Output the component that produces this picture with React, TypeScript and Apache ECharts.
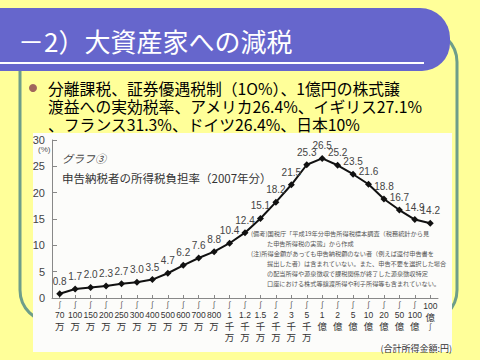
import React, { useEffect, useRef } from 'react';
import * as echarts from 'echarts';

const categories = ['70万', '100万', '150万', '200万', '250万', '300万', '400万', '500万', '600万', '700万', '800万', '1千万', '1.2千万', '1.5千万', '2千万', '3千万', '5千万', '1億', '2億', '5億', '10億', '20億', '50億', '100億', '100億~'];
const taxRates = [0.8, 1.7, 2.0, 2.3, 2.7, 3.0, 3.5, 4.7, 6.2, 7.6, 8.8, 10.4, 12.4, 15.1, 18.2, 21.5, 25.3, 26.5, 25.2, 23.5, 21.6, 18.8, 16.7, 14.9, 14.2];
const yMin = 0;
const yMax = 30;
const yStep = 5;

const slideTitle = '－2）大資産家への減税';
const bulletLines = [
  '分離課税、証券優遇税制（1O%）、1億円の株式譲',
  '渡益への実効税率、アメリカ26.4%、イギリス27.1%',
  '、フランス31.3%、ドイツ26.4%、日本10%',
];
const chartNo = 'グラフ③';
const chartTitle = '申告納税者の所得税負担率（2007年分）';
const noteLines = [
  '(備考)国税庁「平成19年分申告所得税標本調査（税務統計から見',
  'た申告所得税の実態」から作成',
  '(注)所得金額があっても申告納税額のない者（例えば還付申告書を',
  '提出した者）は含まれていない。また、申告不要を選択した場合',
  'の配当所得や源泉徴収で課税関係が終了した源泉徴収特定',
  '口座における株式等譲渡所得や利子所得等も含まれていない。',
];
const unitNote = '(合計所得金額:円)';

const JP = '"Noto Sans CJK JP", "Noto Sans", sans-serif';
const NUM = '"Liberation Sans", Arial, sans-serif';

export default function App() {
  const ref = useRef<HTMLDivElement>(null);
  useEffect(() => {
    if (!ref.current) return;
    const chart = echarts.init(ref.current, undefined, { renderer: 'svg' });
    const labelFmt = (v: string) => {
      if (v.endsWith('~')) {
        const m = v.slice(0, -1).match(/^([\d.]+)(.*)$/) as RegExpMatchArray;
        return [`{n|${m[1]}}`, ...m[2].split('').map((c) => `{u|${c}}`), '{s|∫}'].join('\n');
      }
      const m = v.match(/^([\d.]+)(.*)$/) as RegExpMatchArray;
      return ['{s|∫}', `{n|${m[1]}}`, ...m[2].split('').map((c) => `{u|${c}}`)].join('\n');
    };
    const graphics: any[] = [
      { type: 'rect', z: -10, shape: { x: 20, y: 30, width: 437, height: 292, r: 32 }, style: { fill: 'none', stroke: '#6E9E8A', lineWidth: 3 } },
      { type: 'rect', z: -9, shape: { x: -30, y: 8, width: 480, height: 63, r: [0, 30, 28, 0] }, style: { fill: '#6666CC' } },
      { type: 'rect', z: -8, shape: { x: 0, y: 62, width: 424, height: 2 }, style: { fill: '#FFFFFF' } },
      { type: 'text', z: 5, x: 18, y: 40, style: { text: slideTitle, fill: '#FFFFFF', font: `26px ${JP}`, verticalAlign: 'middle' } },
      { type: 'circle', z: 5, shape: { cx: 33, cy: 88, r: 4 }, style: { fill: '#A0665C' } },
      { type: 'text', z: 5, x: 48, y: 79, style: { text: bulletLines.join('\n'), fill: '#000000', font: `15.8px ${JP}`, lineHeight: 18, verticalAlign: 'top' } },
      { type: 'rect', z: -7, shape: { x: 33, y: 133, width: 419, height: 219 }, style: { fill: '#FCFCFA' } },
      { type: 'text', z: 5, x: 38, y: 149, style: { text: '(%)', fill: '#555', font: `8px ${NUM}`, verticalAlign: 'middle' } },
      { type: 'text', z: 5, x: 62, y: 158, style: { text: chartNo, fill: '#444', font: `italic 11px ${JP}`, verticalAlign: 'middle' } },
      { type: 'text', z: 5, x: 62, y: 178, style: { text: chartTitle, fill: '#333', font: `11.5px ${JP}`, verticalAlign: 'middle' } },
      ...noteLines.map((t, i) => ({ type: 'text', z: 5, x: (i === 0 || i === 2) ? 251 : 267, y: 233 + i * 10, style: { text: t, fill: '#555', font: `6.2px ${JP}`, verticalAlign: 'middle' } })),
      { type: 'text', z: 5, x: 452, y: 348, style: { text: unitNote, fill: '#333', font: `9px ${JP}`, align: 'right', verticalAlign: 'middle' } },
    ];
    chart.setOption({
      animation: false,
      backgroundColor: '#FFFF99',
      graphic: graphics,
      grid: { left: 52, right: 42, top: 140, bottom: 62, containLabel: false },
      xAxis: {
        type: 'category',
        data: categories,
        boundaryGap: true,
        axisLine: { lineStyle: { color: '#888', width: 1 } },
        axisTick: { show: true, inside: true, length: 3, alignWithLabel: true, lineStyle: { color: '#888' } },
        axisLabel: {
          interval: 0,
          margin: 2,
          color: '#333',
          formatter: labelFmt,
          rich: {
            s: { fontSize: 8, lineHeight: 9, color: '#555', fontFamily: JP },
            n: { fontSize: 8.5, lineHeight: 11, color: '#333', fontFamily: NUM },
            u: { fontSize: 9.5, lineHeight: 11, color: '#333', fontFamily: JP },
          },
        },
        splitLine: { show: false },
      },
      yAxis: {
        type: 'value',
        min: yMin,
        max: yMax,
        interval: yStep,
        axisLine: { show: true, lineStyle: { color: '#888' } },
        axisTick: { show: true, inside: true, length: 5, lineStyle: { color: '#888' } },
        axisLabel: { color: '#444', fontSize: 11, margin: 7, fontFamily: NUM },
        splitLine: { show: false },
      },
      series: [
        {
          type: 'line',
          data: taxRates,
          symbol: 'diamond',
          symbolSize: 7,
          itemStyle: { color: '#111' },
          lineStyle: { color: '#111', width: 2 },
          label: {
            show: true,
            position: 'top',
            distance: 4,
            color: '#444',
            fontSize: 10,
            fontFamily: NUM,
            formatter: (p: any) => Number(p.value).toFixed(1),
          },
          z: 10,
        },
      ],
    });
    return () => chart.dispose();
  }, []);
  return <div ref={ref} style={{ position: 'fixed', left: 0, top: 0, width: 480, height: 360 }} />;
}
